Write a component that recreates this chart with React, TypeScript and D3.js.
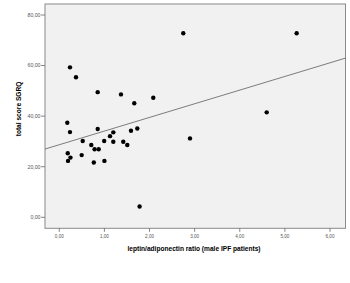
import React from "react";
import * as d3 from "d3";

const ratio = [0.237, 0.37, 0.851, 1.367, 2.083, 1.662, 0.177, 0.237, 0.851, 1.197, 1.589, 1.729, 1.124, 0.519, 0.995, 1.197, 1.418, 1.507, 0.709, 0.782, 0.873, 0.188, 0.496, 0.248, 0.193, 0.765, 1.0, 1.78, 2.748, 5.261, 4.597, 2.897];
const sgrq = [59.3, 55.4, 49.5, 48.6, 47.3, 45.1, 37.4, 33.7, 34.9, 33.6, 34.2, 35.1, 32.1, 30.2, 30.2, 29.9, 29.9, 28.6, 28.6, 26.9, 26.9, 25.3, 24.6, 23.6, 22.3, 21.7, 22.3, 4.3, 72.8, 72.8, 41.5, 31.2];
const xTicks = [0, 1, 2, 3, 4, 5, 6];
const yTicks = [0, 20, 40, 60, 80];
const fitIntercept = 28.7;
const fitSlope = 5.4;
const xTitle = "leptin/adiponectin ratio (male IPF patients)";
const yTitle = "total score SGRQ";

const fmt = (v: number) => v.toFixed(2).replace(".", ",");

export default function App() {
  const W = 350, H = 283;
  const left = 45, right = 345.5, top = 4, bottom = 228.3;
  const x = d3.scaleLinear().domain([0, 6]).range([59.3, 330]);
  const y = d3.scaleLinear().domain([0, 80]).range([217.3, 15]);
  const x0 = x.invert(left), x1 = x.invert(right);
  const line = d3.line<number>()
    .x((v) => x(v))
    .y((v) => y(fitIntercept + fitSlope * v));
  return (
    <svg width={W} height={H} style={{ position: "absolute", left: 0, top: 0, background: "#fff" }}
      fontFamily="Liberation Sans, Arial, sans-serif">
      <rect x={left} y={top} width={right - left} height={bottom - top} fill="#f1f1f1" stroke="#8a8a8a" strokeWidth={1} />
      {yTicks.map((t) => (
        <g key={"y" + t}>
          <line x1={left - 4} x2={left} y1={y(t)} y2={y(t)} stroke="#666" strokeWidth={0.8} />
          <text x={left - 4.5} y={y(t) + 1.8} fontSize={5.2} textAnchor="end" fill="#555">{fmt(t)}</text>
        </g>
      ))}
      {xTicks.map((t) => (
        <g key={"x" + t}>
          <line x1={x(t)} x2={x(t)} y1={bottom} y2={bottom + 3.5} stroke="#666" strokeWidth={0.8} />
          <text x={x(t)} y={bottom + 9.5} fontSize={4.6} textAnchor="middle" fill="#555">{fmt(t)}</text>
        </g>
      ))}
      <path d={line([x0, x1]) || ""} stroke="#6e6e6e" strokeWidth={0.9} fill="none" />
      {ratio.map((r, i) => (
        <circle key={i} cx={x(r)} cy={y(sgrq[i])} r={2.2} fill="#000" />
      ))}
      <text x={194} y={251} fontSize={6.6} fontWeight="bold" textAnchor="middle" fill="#000">{xTitle}</text>
      <text transform={`translate(21,109) rotate(-90)`} fontSize={6.6} fontWeight="bold" textAnchor="middle" fill="#000">{yTitle}</text>
    </svg>
  );
}
